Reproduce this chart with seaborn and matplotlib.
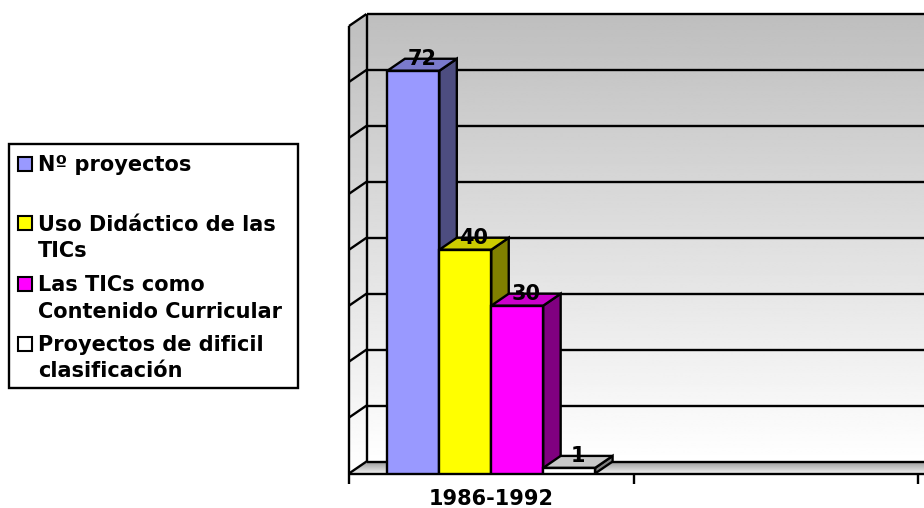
import numpy as np
import pandas as pd
import matplotlib
matplotlib.use("Agg")
import matplotlib.pyplot as plt
from matplotlib.patches import Polygon, Rectangle
import seaborn as sns

# ---- data -------------------------------------------------------------
periodos = ["1986-1992"]
series = [
    "Nº proyectos",
    "Uso Didáctico de las TICs",
    "Las TICs como Contenido Curricular",
    "Proyectos de dificil clasificación",
]
valores = [72, 40, 30, 1]
legend_lines = [
    ["Nº proyectos"],
    ["Uso Didáctico de las", "TICs"],
    ["Las TICs como", "Contenido Curricular"],
    ["Proyectos de dificil", "clasificación"],
]
y_grid = [0, 10, 20, 30, 40, 50, 60, 70, 80]

# ---- colours (front / top / side faces of the 3-D bars) ----------------
col_front = ["#9999ff", "#ffff00", "#ff00ff", "#ffffff"]
col_top = ["#7a7acc", "#cccc00", "#cc00cc", "#c8c8c8"]
col_side = ["#4d4d80", "#808000", "#800080", "#808080"]

# ---- figure geometry (pixels) -----------------------------------------
W, H = 924, 508
DPI = 100
ax_left, ax_right = 349, 924
y_front0, y_back_top, y_back0 = 473.5, 14.0, 461.5
px_per_cat = 284.5
px_per_unit = (y_back0 - y_back_top) / y_grid[-1]
DX = 17.5 / px_per_cat           # depth offset in x (category units)
DY = (y_front0 - y_back0) / px_per_unit  # depth offset in y (value units)
X0 = -0.5
XMAX = 1.5 + (ax_right - 918) / px_per_cat
YTOP = y_grid[-1]
LW = 1.7
FS = 15

fig = plt.figure(figsize=(W / DPI, H / DPI), dpi=DPI)
ax = fig.add_axes([ax_left / W, (H - y_front0) / H,
                   (ax_right - ax_left) / W, (y_front0 - y_back_top) / H])

# ---- walls and floor --------------------------------------------------
grad = (np.linspace(190, 255, 256) / 255).reshape(-1, 1)
ax.imshow(grad, extent=[X0 + DX, XMAX, DY, YTOP + DY], cmap="gray",
          vmin=0, vmax=1, aspect="auto", interpolation="bilinear", zorder=0)

left_wall = Polygon([(X0, 0), (X0 + DX, DY), (X0 + DX, YTOP + DY), (X0, YTOP)],
                    closed=True, facecolor="none", edgecolor="none", zorder=0)
ax.add_patch(left_wall)
im = ax.imshow(grad, extent=[X0, X0 + DX, 0, YTOP + DY], cmap="gray",
               vmin=0, vmax=1, aspect="auto", interpolation="bilinear", zorder=0)
im.set_clip_path(left_wall)

floor = Polygon([(X0, 0), (XMAX, 0), (XMAX, DY), (X0 + DX, DY)],
                closed=True, facecolor="none", edgecolor="none", zorder=0)
ax.add_patch(floor)
grad_floor = (np.linspace(150, 235, 64) / 255).reshape(-1, 1)
imf = ax.imshow(grad_floor, extent=[X0, XMAX, 0, DY], cmap="gray",
                vmin=0, vmax=1, aspect="auto", interpolation="bilinear", zorder=0)
imf.set_clip_path(floor)

line_kw = dict(color="black", lw=LW, solid_capstyle="butt", clip_on=False, zorder=1)
for v in y_grid:
    ax.plot([X0 + DX, XMAX], [v + DY, v + DY], **line_kw)
    ax.plot([X0, X0 + DX], [v, v + DY], **line_kw)
ax.plot([X0, X0], [0, YTOP], **line_kw)
ax.plot([X0 + DX, X0 + DX], [DY, YTOP + DY], **line_kw)
ax.plot([X0, XMAX], [0, 0], **line_kw)

# ---- bars -------------------------------------------------------------
df = pd.DataFrame({"periodo": periodos * len(series), "serie": series, "valor": valores})
n_before = len(ax.patches)
sns.barplot(data=df, x="periodo", y="valor", hue="serie", hue_order=series,
            palette=col_front, saturation=1, width=0.73, errorbar=None,
            edgecolor="black", linewidth=LW, legend=False, ax=ax)
bars = sorted([p for p in ax.patches[n_before:] if isinstance(p, Rectangle)],
              key=lambda p: p.get_x())

for i, p in enumerate(bars):
    x, w, h = p.get_x(), p.get_width(), p.get_height()
    side = Polygon([(x + w, 0), (x + w + DX, DY), (x + w + DX, h + DY), (x + w, h)],
                   closed=True, facecolor=col_side[i], edgecolor="black",
                   lw=LW, zorder=3 + 2 * i, joinstyle="miter")
    top = Polygon([(x, h), (x + w, h), (x + w + DX, h + DY), (x + DX, h + DY)],
                  closed=True, facecolor=col_top[i], edgecolor="black",
                  lw=LW, zorder=3 + 2 * i, joinstyle="miter")
    ax.add_patch(side)
    ax.add_patch(top)
    p.set_zorder(4 + 2 * i)
    ax.text(x + w / 2 + DX / 2, valores[i] + DY, f"{valores[i]}",
            ha="center", va="center", fontsize=FS, fontweight="bold",
            color="black", zorder=20)

# ---- axes cosmetics ---------------------------------------------------
ax.set_xlim(X0, XMAX)
ax.set_ylim(0, YTOP + DY)
for s in ax.spines.values():
    s.set_visible(False)
ax.set_xlabel("")
ax.set_ylabel("")
ax.set_yticks([])
ax.set_xticks([0])
ax.set_xticklabels(periodos, fontsize=FS, fontweight="bold")
ax.set_xticks([-0.5, 0.5, 1.5], minor=True)
ax.tick_params(axis="x", which="major", length=0, pad=11.5)
ax.tick_params(axis="x", which="minor", length=7.5, width=LW, color="black")
ax.set_facecolor("none")

# ---- legend -----------------------------------------------------------
def fx(px):
    return px / W


def fy(py):
    return 1 - py / H


fig.patches.append(Rectangle((fx(9), fy(387.5)), fx(297.5) - fx(9), fy(144) - fy(387.5),
                             transform=fig.transFigure, facecolor="white",
                             edgecolor="black", lw=LW))
baselines = [[171], [230.5, 257], [291, 317.5], [351, 377]]
for i, lines in enumerate(legend_lines):
    b0 = baselines[i][0]
    fig.patches.append(Rectangle((fx(18), fy(b0 - 0.5)), fx(14), fy(0) - fy(14),
                                 transform=fig.transFigure, facecolor=col_front[i],
                                 edgecolor="black", lw=1.5))
    for line, b in zip(lines, baselines[i]):
        fig.text(fx(38), fy(b), line, ha="left", va="baseline",
                 fontsize=FS, fontweight="bold", color="black")

fig.savefig("out.png", dpi=DPI)
